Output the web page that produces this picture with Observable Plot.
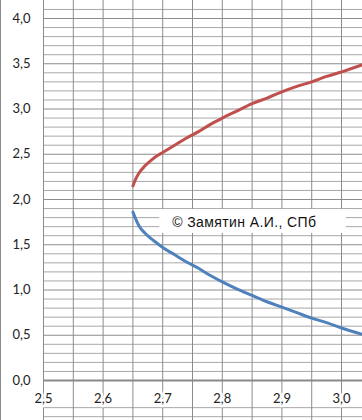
<!DOCTYPE html>
<html>
<head>
<meta charset="utf-8">
<script src="https://cdn.jsdelivr.net/npm/d3@7"></script>
<script src="https://cdn.jsdelivr.net/npm/@observablehq/plot@0.6"></script>
<style>
  html, body { margin: 0; padding: 0; background: #fff; }
  #chart { width: 362px; height: 420px; overflow: hidden; }
</style>
</head>
<body>
<div id="chart"></div>
<script>
// X values (argument)
const xValues = [2.65, 2.655, 2.66, 2.67, 2.68, 2.69, 2.70, 2.72, 2.74, 2.76, 2.78, 2.80, 2.825, 2.85, 2.875, 2.90, 2.925, 2.95, 2.975, 3.00, 3.035];
// Upper branch (red)
const upperValues = [2.15, 2.23, 2.29, 2.37, 2.43, 2.48, 2.52, 2.60, 2.68, 2.75, 2.83, 2.90, 2.98, 3.06, 3.12, 3.19, 3.25, 3.30, 3.36, 3.41, 3.49];
// Lower branch (blue)
const lowerValues = [1.86, 1.78, 1.71, 1.63, 1.57, 1.52, 1.47, 1.39, 1.31, 1.24, 1.16, 1.09, 1.01, 0.94, 0.87, 0.81, 0.75, 0.69, 0.64, 0.58, 0.51];

// Tick values and labels
const xTicks = [2.5, 2.6, 2.7, 2.8, 2.9, 3.0];
const xTickLabels = ["2,5", "2,6", "2,7", "2,8", "2,9", "3,0"];
const yTicks = [0, 0.5, 1.0, 1.5, 2.0, 2.5, 3.0, 3.5, 4.0];
const yTickLabels = ["0,0", "0,5", "1,0", "1,5", "2,0", "2,5", "3,0", "3,5", "4,0"];
const xGridLines = [2.5, 2.55, 2.6, 2.65, 2.7, 2.75, 2.8, 2.85, 2.9, 2.95, 3.0];
const yMinorGrid = [-0.4, -0.3, 0.1, 0.2, 0.3, 0.4, 0.6, 0.7, 0.8, 0.9, 1.1, 1.2, 1.3, 1.4, 1.6, 1.7, 1.8, 1.9, 2.1, 2.2, 2.3, 2.4, 2.6, 2.7, 2.8, 2.9, 3.1, 3.2, 3.3, 3.4, 3.6, 3.7, 3.8, 3.9, 4.1];
const yMajorGrid = [0.5, 1.0, 1.5, 2.0, 2.5, 3.0, 3.5, 4.0];

// Annotation
const noteText = "© Замятин А.И., СПб";
const noteBox = {x1: 2.695, x2: 3.008, y1: 1.625, y2: 1.89};
const noteAnchor = {x: 2.716, y: 1.757};

const upper = xValues.map((x, i) => ({x, y: upperValues[i]}));
const lower = xValues.map((x, i) => ({x, y: lowerValues[i]}));

const chart = Plot.plot({
  width: 362,
  height: 420,
  marginLeft: 43,
  marginRight: 0,
  marginTop: 0,
  marginBottom: 0,
  style: {background: "#fff", fontFamily: "Lato, 'Liberation Sans', sans-serif"},
  x: {domain: [2.5, 3.0352], axis: null},
  y: {domain: [-0.442, 4.199], axis: null},
  marks: [
    Plot.ruleY(yMinorGrid, {stroke: "#a8a8a8", strokeWidth: 1}),
    Plot.ruleY(yMajorGrid, {stroke: "#8c8c8c", strokeWidth: 1}),
    Plot.ruleX(xGridLines, {stroke: "#8c8c8c", strokeWidth: 1}),
    Plot.ruleY([0], {stroke: "#8a8a8a", strokeWidth: 2}),
    Plot.rect([noteBox], {x1: "x1", x2: "x2", y1: "y1", y2: "y2", fill: "#fff"}),
    Plot.text([noteText], {x: noteAnchor.x, y: noteAnchor.y, text: d => d, textAnchor: "start",
      fontSize: 14, fill: "#111", fontFamily: "'Liberation Sans', Arial, sans-serif", dy: 1}),
    Plot.line(upper, {x: "x", y: "y", stroke: "#C0504D", strokeWidth: 3, curve: "monotone-x"}),
    Plot.line(lower, {x: "x", y: "y", stroke: "#4F81BD", strokeWidth: 3, curve: "monotone-x"}),
    Plot.text(yTicks, {x: 2.5, y: d => d, text: (d, i) => yTickLabels[i], textAnchor: "end", dx: -13,
      fontSize: 13, fill: "#222"}),
    Plot.text(xTicks, {x: d => d, y: 0, text: (d, i) => xTickLabels[i], dy: 18,
      fontSize: 13, fill: "#222", stroke: "#fff", strokeWidth: 5, paintOrder: "stroke"})
  ]
});

// letter spacing for the annotation text
d3.select(chart).selectAll("text").filter(function() { return this.textContent === noteText; })
  .attr("letter-spacing", "0.4px");

// left frame border
d3.select(chart).append("line")
  .attr("x1", 0.5).attr("x2", 0.5).attr("y1", 0).attr("y2", 420)
  .attr("stroke", "#8c8c8c").attr("stroke-width", 1);

document.getElementById("chart").appendChild(chart);
</script>
</body>
</html>
